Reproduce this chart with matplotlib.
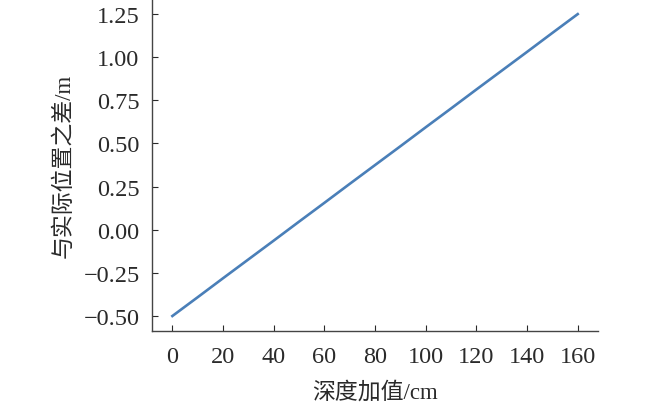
import matplotlib
matplotlib.use("Agg")
import matplotlib.pyplot as plt

depth_cm = [0, 10, 20, 30, 40, 50, 60, 70, 80, 90, 100, 110, 120, 130, 140, 150, 160]
diff_m = [-0.500, -0.391, -0.281, -0.172, -0.063, 0.047, 0.156, 0.266, 0.375,
          0.484, 0.594, 0.703, 0.813, 0.922, 1.031, 1.141, 1.250]
xticks = [0, 20, 40, 60, 80, 100, 120, 140, 160]
yticks = [-0.50, -0.25, 0.00, 0.25, 0.50, 0.75, 1.00, 1.25]

plt.rcParams['font.family'] = ['Liberation Serif', 'Noto Sans CJK SC']
plt.rcParams['axes.unicode_minus'] = True

fig = plt.figure(figsize=(6.5, 4.06), dpi=100)
ax = fig.add_axes([0.234, 0.182, 0.686, 0.818])
ax.plot(depth_cm, diff_m, color='#4a7fb8', linewidth=1.9)

ax.set_xticks(xticks)
ax.set_yticks(yticks)
ax.set_yticklabels([f"{v:.2f}".replace('-', '\u2212') for v in yticks])
ax.tick_params(direction='in', length=4, width=0.8, colors='#2a2a2a', labelsize=17.5)
ax.tick_params(axis='y', pad=9)
ax.tick_params(axis='x', pad=11)
for s in ['top', 'right']:
    ax.spines[s].set_visible(False)
for s in ['left', 'bottom']:
    ax.spines[s].set_color('#444444')
    ax.spines[s].set_linewidth(1.0)

ax.set_xlabel('深度加值/cm', fontsize=16.5, color='#2a2a2a', labelpad=10)
ax.set_ylabel('与实际位置之差/m', fontsize=16.5, color='#2a2a2a', labelpad=6)

fig.savefig('out.png', dpi=100)
